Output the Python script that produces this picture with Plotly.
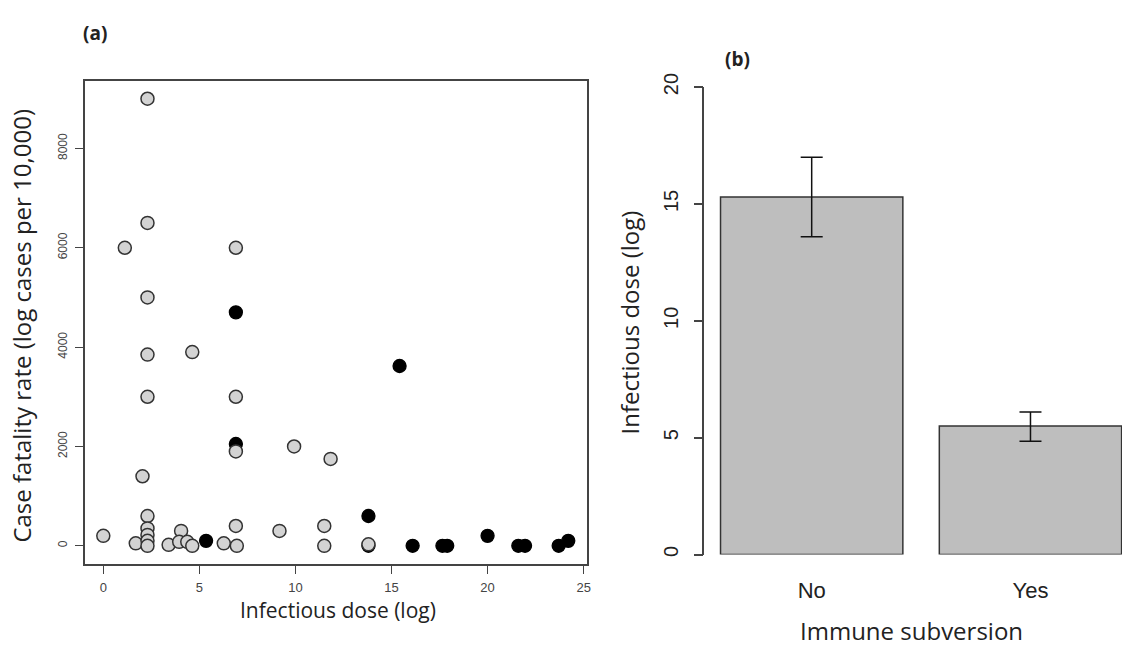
import plotly.graph_objects as go

W, H = 1126, 653

# ---- Panel (a) data: infectious dose (log) vs case fatality rate ----
grey_dose = [0, 1.12, 1.69, 2.04, 2.3, 2.3, 2.3, 2.3, 2.3, 2.3, 2.3, 2.3, 2.3, 2.3,
             3.4, 4.05, 3.95, 4.37, 4.63, 4.63, 6.27, 6.9, 6.9, 6.9, 6.9, 6.95,
             9.17, 9.93, 11.5, 11.5, 11.83, 13.8]
grey_cfr = [200, 6000, 50, 1400, 9000, 6500, 5000, 3850, 3000, 600, 350, 220, 100, 0,
            20, 300, 80, 80, 0, 3900, 50, 6000, 3000, 1900, 400, 0,
            300, 2000, 400, 0, 1750, 30]
black_dose = [5.35, 6.9, 6.9, 13.8, 13.8, 15.42, 16.1, 17.65, 17.9, 20.0, 21.6, 21.95, 23.7, 24.2]
black_cfr = [100, 4700, 2050, 600, 0, 3620, 0, 0, 0, 200, 0, 0, 0, 100]

# ---- Panel (b) data: mean infectious dose by immune subversion ----
categories = ["No", "Yes"]
mean_dose = [15.3, 5.5]
err_upper = [1.7, 0.6]
err_lower = [1.7, 0.65]

bar_pos = [0.7 + 1.2 * i for i in range(len(categories))]

title_font = "'Open Sans', Lato, sans-serif"
tick_font = "'Liberation Sans', Arial, sans-serif"
axcol = "#444444"

fig = go.Figure()

fig.add_trace(go.Scatter(
    x=black_dose, y=black_cfr, mode="markers", xaxis="x", yaxis="y",
    marker=dict(size=13, color="black", line=dict(color="black", width=1.3)),
    showlegend=False, cliponaxis=False))
fig.add_trace(go.Scatter(
    x=grey_dose, y=grey_cfr, mode="markers", xaxis="x", yaxis="y",
    marker=dict(size=13, color="#d3d3d3", line=dict(color="#333333", width=1.5)),
    showlegend=False, cliponaxis=False))

fig.add_trace(go.Bar(
    x=bar_pos, y=mean_dose, width=1.0, xaxis="x2", yaxis="y2",
    marker=dict(color="#bebebe", line=dict(color="#333333", width=1.5)),
    error_y=dict(type="data", symmetric=False, array=err_upper, arrayminus=err_lower,
                 color="#111111", thickness=1.5, width=11),
    showlegend=False))


def ann(text, px, py, size, angle=0, bold=False):
    return dict(text=f"<b>{text}</b>" if bold else text,
                x=px / W, y=1 - py / H, xref="paper", yref="paper",
                xanchor="center", yanchor="middle", showarrow=False, textangle=angle,
                font=dict(family=title_font, size=size, color="#222222"))


fig.update_layout(
    width=W, height=H,
    margin=dict(l=0, r=0, t=0, b=0),
    paper_bgcolor="white", plot_bgcolor="white",
    xaxis=dict(domain=[85 / W, 589 / W], range=[-0.968, 25.17],
               tickvals=[0, 5, 10, 15, 20, 25], showgrid=False, zeroline=False,
               showline=True, mirror=True, linecolor=axcol, linewidth=1.5,
               ticks="outside", ticklen=8, tickcolor=axcol, tickwidth=1.2,
               ticklabelstandoff=2,
               tickfont=dict(family=tick_font, size=13, color="#444444")),
    yaxis=dict(domain=[1 - 565 / H, 1 - 69 / H], range=[-372, 9353],
               tickvals=[0, 2000, 4000, 6000, 8000], showgrid=False, zeroline=False,
               showline=True, mirror=True, linecolor=axcol, linewidth=1.5,
               ticks="outside", ticklen=8, tickcolor=axcol, tickwidth=1.2,
               tickangle=-90, ticklabelstandoff=3,
               tickfont=dict(family=tick_font, size=12, color="#444444")),
    xaxis2=dict(domain=[707 / W, 1.0], range=[0.112, 2.402], anchor="y2",
                tickvals=bar_pos, ticktext=categories, showgrid=False, zeroline=False,
                showline=False, ticks="", ticklabelstandoff=20,
                tickfont=dict(family=tick_font, size=22, color="#222222")),
    yaxis2=dict(domain=[1 - 555 / H, 1 - 75 / H], range=[0, 20], anchor="x2",
                tickvals=[0, 5, 10, 15, 20], showgrid=False, zeroline=False,
                showline=True, linecolor=axcol, linewidth=1.5,
                ticks="outside", ticklen=9, tickcolor=axcol, tickwidth=1.5,
                tickangle=-90, ticklabelstandoff=8,
                tickfont=dict(family=tick_font, size=20, color="#222222")),
    annotations=[
        ann("(a)", 95, 20, 19, bold=True),
        ann("(b)", 740, 46, 19, bold=True),
        ann("Case fatality rate (log cases per 10,000)", 22, 320, 24, angle=-90),
        ann("Infectious dose (log)", 339, 612, 21),
        ann("Infectious dose (log)", 632, 317, 24, angle=-90),
        ann("Immune subversion", 915, 633, 24),
    ],
)

fig.write_html("out.html")
